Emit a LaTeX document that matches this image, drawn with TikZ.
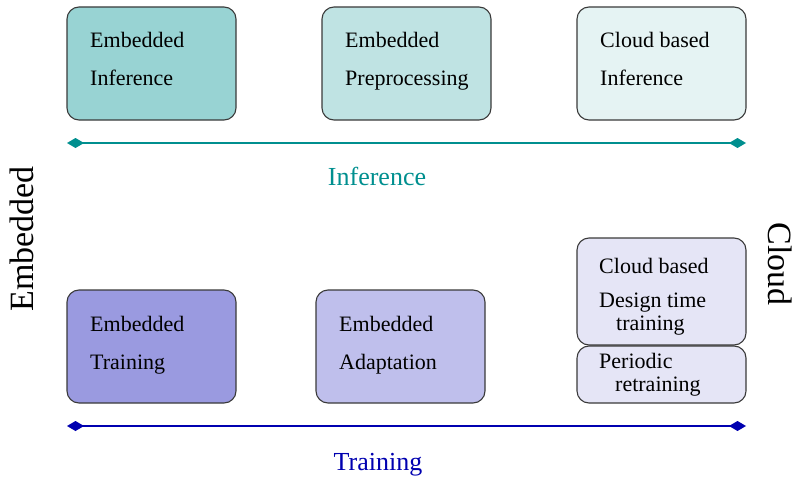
\documentclass[tikz,border=0pt]{standalone}
\usepackage{fontspec}
\setmainfont{Liberation Serif}
\usetikzlibrary{arrows.meta}
\definecolor{infcol}{HTML}{008F8F}
\definecolor{trncol}{HTML}{0000B0}
\definecolor{tealA}{HTML}{98D3D3}
\definecolor{tealB}{HTML}{BFE3E3}
\definecolor{tealC}{HTML}{E5F3F3}
\definecolor{lilA}{HTML}{9A9AE0}
\definecolor{lilB}{HTML}{BFBFEC}
\definecolor{lilC}{HTML}{E5E5F6}
\definecolor{edge}{HTML}{3A3A3A}
\begin{document}
\begin{tikzpicture}[x=1pt,y=-1pt,
  box/.style={draw=edge,line width=1.1pt,rounded corners=12pt},
  txt/.style={anchor=base west,inner sep=0pt,font=\fontsize{22}{26}\selectfont},
  axislabel/.style={inner sep=0pt,anchor=base,font=\fontsize{26}{30}\selectfont},
  sidelabel/.style={inner sep=0pt,font=\fontsize{34}{40}\selectfont},
  tipped/.style={line width=2pt,{Diamond[length=17pt,width=10pt]}-{Diamond[length=17pt,width=10pt]}}]
\useasboundingbox (0,0) rectangle (794,476);

% inference row
\draw[box,fill=tealA] (67,7) rectangle (236,120);
\draw[box,fill=tealB] (322,7) rectangle (491,120);
\draw[box,fill=tealC] (577,7) rectangle (746,120);
\node[txt] (ei1) at (90,48) {Embedded};
\node[txt] (ei2) at (90,86) {Inference};
\node[txt] (ep1) at (345,48) {Embedded};
\node[txt] (ep2) at (345,86) {Preprocessing};
\node[txt] (ci1) at (600,48) {Cloud based};
\node[txt] (ci2) at (600,86) {Inference};

\coordinate (infL) at (67,143);
\coordinate (infR) at (746,143);
\draw[tipped,infcol] (infL) -- (infR);
\node[axislabel,text=infcol] (inflabel) at (377,185) {Inference};

% training row
\draw[box,fill=lilA] (67,290) rectangle (236,403);
\draw[box,fill=lilB] (316,290) rectangle (485,403);
\draw[box,fill=lilC] (577,238) rectangle (746,345);
\draw[box,fill=lilC] (577,346) rectangle (746,403);
\node[txt] (et1) at (90,331) {Embedded};
\node[txt] (et2) at (90,369) {Training};
\node[txt] (ea1) at (339,331) {Embedded};
\node[txt] (ea2) at (339,369) {Adaptation};
\node[txt] (cd1) at (599,273) {Cloud based};
\node[txt] (cd2) at (599,307) {Design time};
\node[txt] (cd3) at (616,330) {training};
\node[txt] (pr1) at (599,368) {Periodic};
\node[txt] (pr2) at (615,391) {retraining};

\coordinate (trnL) at (67,426);
\coordinate (trnR) at (746,426);
\draw[tipped,trncol] (trnL) -- (trnR);
\node[axislabel,text=trncol] (trnlabel) at (378,470) {Training};

% side labels
\node[sidelabel,rotate=90] (embside) at (22,239) {Embedded};
\node[sidelabel,rotate=-90] (cloudside) at (780,264) {Cloud};
\end{tikzpicture}
\end{document}
